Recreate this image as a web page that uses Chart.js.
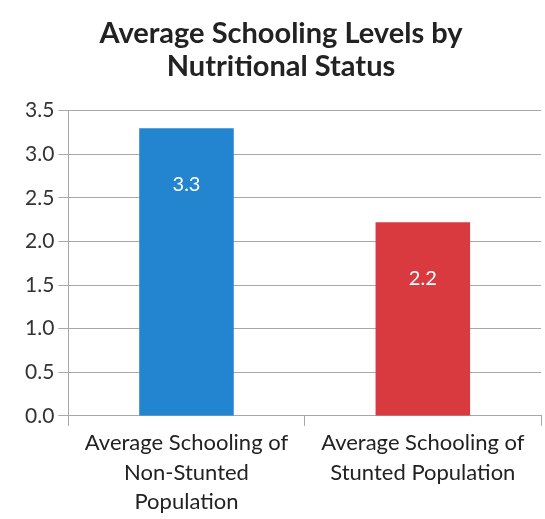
<!DOCTYPE html>
<html>
<head>
<meta charset="utf-8">
<script src="https://cdn.jsdelivr.net/npm/chart.js@4.4.1/dist/chart.umd.min.js"></script>
<style>
  html, body { margin: 0; padding: 0; background: #fff; }
  #wrap { width: 545px; height: 519px; }
</style>
</head>
<body>
<div id="wrap"><canvas id="myChart" width="545" height="519"></canvas></div>
<script>
const categories = [
  ["Average Schooling of", "Non-Stunted", "Population"],
  ["Average Schooling of", "Stunted Population"]
];
const values = [3.3, 2.22];
const valueLabels = ["3.3", "2.2"];
const barColors = ["#2384d0", "#d93a40"];
const chartTitle = ["Average Schooling Levels by", "Nutritional Status"];

// white value labels inside bars, a bit below the top
const barLabels = {
  id: "barLabels",
  afterDatasetsDraw(chart) {
    const ctx = chart.ctx;
    const meta = chart.getDatasetMeta(0);
    ctx.save();
    ctx.fillStyle = "#ffffff";
    ctx.font = "20px Lato";
    ctx.textAlign = "center";
    ctx.textBaseline = "middle";
    meta.data.forEach(function (bar, i) {
      ctx.fillText(valueLabels[i], bar.x, bar.y + 56);
    });
    ctx.restore();
  }
};

const ctx = document.getElementById("myChart");
new Chart(ctx, {
  type: "bar",
  data: {
    labels: categories,
    datasets: [
      {
        data: values,
        backgroundColor: barColors,
        borderWidth: 0,
        categoryPercentage: 0.8,
        barPercentage: 0.5
      }
    ]
  },
  options: {
    responsive: false,
    animation: false,
    layout: { padding: { left: 21, right: 4, top: 0, bottom: 0 } },
    plugins: {
      legend: { display: false },
      tooltip: { enabled: false },
      title: {
        display: true,
        text: chartTitle,
        color: "#222",
        font: { family: "Lato", size: 29, weight: "bold", lineHeight: 1.15 },
        padding: { top: 17, bottom: 27 }
      }
    },
    scales: {
      y: {
        min: 0,
        max: 3.5,
        ticks: {
          stepSize: 0.5,
          color: "#333",
          font: { family: "Lato", size: 21 },
          padding: 4,
          callback: function (v) { return v.toFixed(1); }
        },
        grid: { color: "#a8a8a8", tickLength: 10, drawTicks: true },
        border: { color: "#a8a8a8" }
      },
      x: {
        ticks: {
          color: "#222",
          font: { family: "Lato", size: 22, lineHeight: 1.35 },
          maxRotation: 0,
          autoSkip: false,
          padding: 2
        },
        grid: { display: true, offset: true, drawOnChartArea: false, tickLength: 10, color: "#a8a8a8" },
        border: { color: "#a8a8a8" }
      }
    }
  },
  plugins: [barLabels]
});
</script>
</body>
</html>
